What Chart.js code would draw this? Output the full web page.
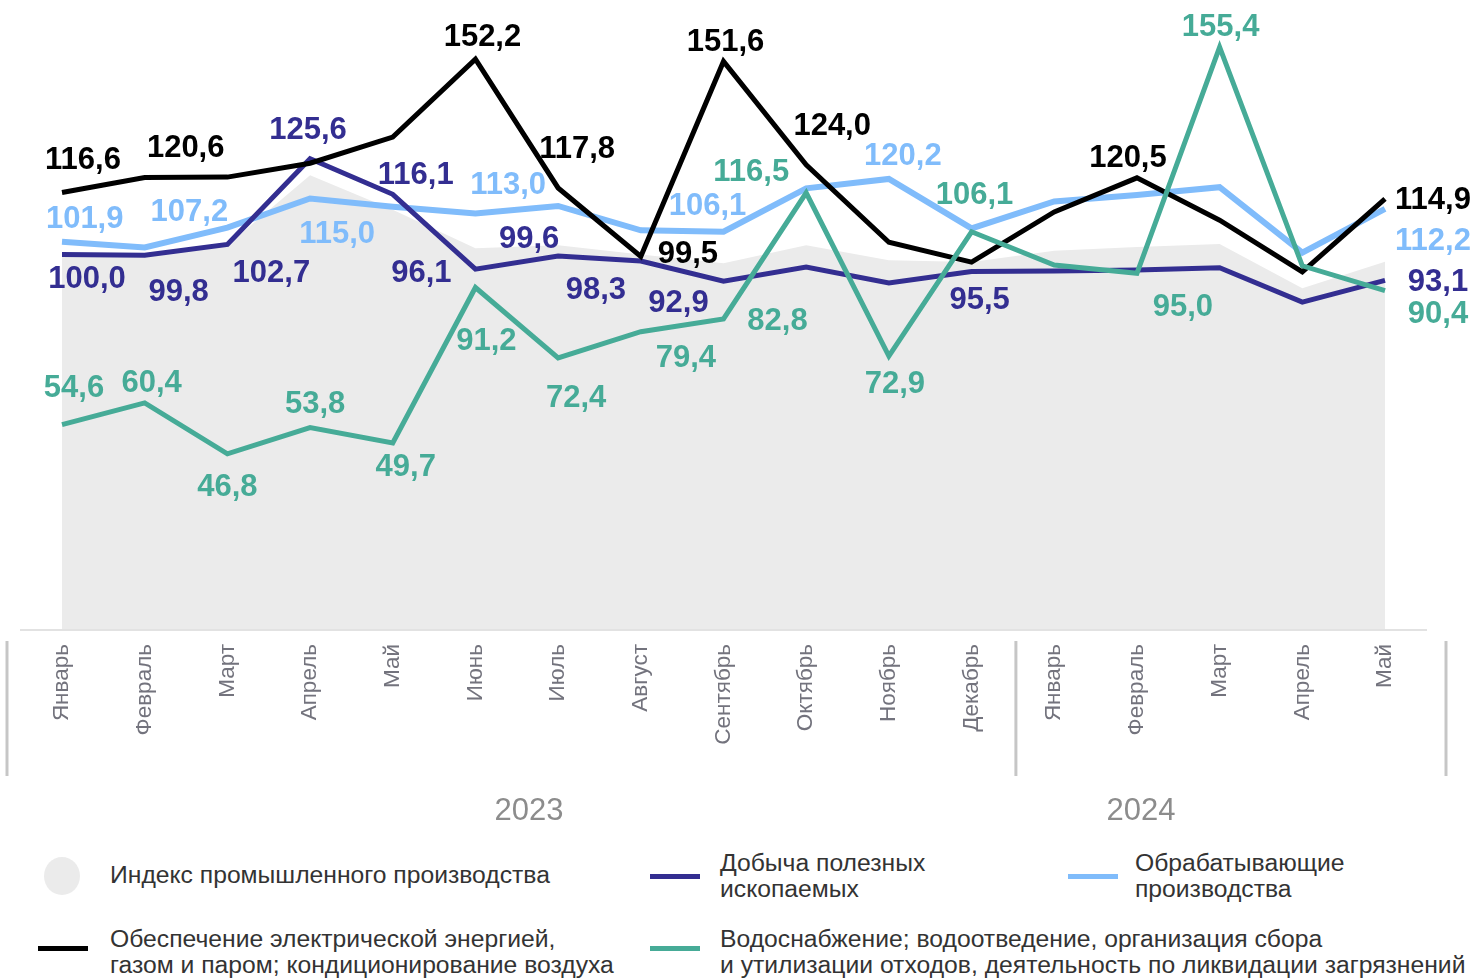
<!DOCTYPE html>
<html lang="ru">
<head>
<meta charset="utf-8">
<script src="https://cdn.jsdelivr.net/npm/chart.js@4.4.1/dist/chart.umd.min.js"></script>
<style>
    body { margin: 0; background: #fff; font-family: 'Liberation Sans', Arial, sans-serif; }
    #wrap { position: relative; width: 1478px; height: 978px; overflow: hidden; }
    #chart { position: absolute; left: 0; top: 0; }
    .year { position: absolute; top: 792px; width: 120px; margin-left: -60px; text-align: center; font-size: 31px; color: #8c8c8c; }
    .leg { position: absolute; font-size: 24.7px; line-height: 26px; color: #333; }
    .mark { position: absolute; height: 5px; width: 50px; }
    .dot { position: absolute; width: 36px; height: 38px; border-radius: 50%; background: #ebebeb; }
</style>
</head>
<body>
<div id="wrap">
    <canvas id="chart" width="1478" height="800"></canvas>

    <div class="year" style="left:529px">2023</div>
    <div class="year" style="left:1141px">2024</div>

    <div class="dot" style="left:44px; top:857px"></div>
    <div class="leg" style="left:110px; top:862px">Индекс промышленного производства</div>

    <div class="mark" style="left:650px; top:874px; background:#332e91"></div>
    <div class="leg" style="left:720px; top:850px">Добыча полезных<br>ископаемых</div>

    <div class="mark" style="left:1068px; top:874px; background:#80bcfb"></div>
    <div class="leg" style="left:1135px; top:850px">Обрабатывающие<br>производства</div>

    <div class="mark" style="left:38px; top:946px; background:#000"></div>
    <div class="leg" style="left:110px; top:926px">Обеспечение электрической энергией,<br>газом и паром; кондиционирование воздуха</div>

    <div class="mark" style="left:650px; top:946px; background:#46ab97"></div>
    <div class="leg" style="left:720px; top:926px">Водоснабжение; водоотведение, организация сбора<br>и утилизации отходов, деятельность по ликвидации загрязнений</div>
</div>

<script>
const months = ['Январь', 'Февраль', 'Март', 'Апрель', 'Май', 'Июнь', 'Июль', 'Август', 'Сентябрь',
    'Октябрь', 'Ноябрь', 'Декабрь', 'Январь', 'Февраль', 'Март', 'Апрель', 'Май'];

const industryIndex = [99.5, 99.5, 102.5, 121.2, 112.0, 101.7, 102.5, 100.0, 97.7, 102.5, 98.5, 98.0, 101.0, 102.0, 102.8, 91.0, 98.1];
const mining        = [100.0, 99.8, 102.7, 125.6, 116.1, 96.1, 99.6, 98.3, 92.9, 96.7, 92.4, 95.5, 95.6, 95.9, 96.5, 87.3, 93.1];
const manufacturing = [103.4, 101.9, 107.2, 115.0, 112.8, 111.0, 113.0, 106.5, 106.1, 117.7, 120.2, 107.0, 114.2, 115.9, 118.0, 100.5, 112.2];
const energy        = [116.6, 120.6, 120.7, 124.4, 131.4, 152.2, 117.8, 99.5, 151.6, 124.0, 103.3, 98.0, 111.4, 120.5, 109.2, 95.4, 114.9];
const water         = [54.6, 60.4, 46.8, 53.8, 49.7, 91.2, 72.4, 79.4, 82.8, 116.5, 72.9, 106.1, 97.2, 95.0, 155.4, 97.0, 90.4];

// which points carry a value label, and where the label sits relative to the point
const energyLabelPos = { 0: [21, -32], 1: [41, -29], 5: [7, -22], 6: [19, -38], 7: [47, -2], 8: [2, -19], 9: [26, -38], 13: [-9, -19], 16: [48, 2] };
const miningLabelPos = { 0: [25, 25], 1: [34, 37], 2: [44, 29], 3: [-2, -28], 4: [23, -19], 5: [-54, 4], 6: [-29, -17], 7: [-45, 29], 8: [-45, 22], 11: [8, 29], 16: [53, 2] };
const manufLabelPos = { 1: [-60, -28], 2: [-38, -15], 3: [27, 36], 6: [-50, -20], 8: [-16, -25], 10: [14, -23], 16: [48, 33] };
const waterLabelPos = { 0: [12, -36], 1: [7, -19], 2: [0, 34], 3: [5, -23], 4: [13, 25], 5: [11, 54], 6: [18, 41], 7: [45, 27], 8: [54, 2], 9: [-55, -20], 10: [6, 28], 11: [3, -36], 13: [46, 34], 14: [1, -20], 16: [53, 24] };

const fmt = v => v.toFixed(1).replace('.', ',');

const valueLabels = {
    id: 'valueLabels',
    afterDatasetsDraw(chart) {
        const ctx = chart.ctx;
        ctx.save();
        ctx.font = 'bold 31px "Liberation Sans", Arial, sans-serif';
        ctx.textAlign = 'center';
        ctx.textBaseline = 'middle';
        chart.data.datasets.forEach((ds, di) => {
            if (!ds.labelPos) return;
            const meta = chart.getDatasetMeta(di);
            ctx.fillStyle = ds.borderColor;
            Object.keys(ds.labelPos).forEach(k => {
                const pt = meta.data[k];
                const [dx, dy] = ds.labelPos[k];
                ctx.fillText(fmt(ds.data[k]), pt.x + dx, pt.y + dy);
            });
        });
        ctx.restore();
    },
    afterDraw(chart) {
        const ctx = chart.ctx;
        const x = chart.scales.x;
        const bottom = chart.chartArea.bottom;
        ctx.save();
        // baseline
        ctx.strokeStyle = '#e2e2e2';
        ctx.lineWidth = 2;
        ctx.beginPath();
        ctx.moveTo(20, bottom + 1);
        ctx.lineTo(1427, bottom + 1);
        ctx.stroke();
        // year separators
        ctx.strokeStyle = '#c6c6c6';
        ctx.lineWidth = 3;
        const seps = [x.getPixelForValue(0) - 55, (x.getPixelForValue(11) + x.getPixelForValue(12)) / 2 + 3, x.getPixelForValue(16) + 61];
        seps.forEach(sx => {
            ctx.beginPath();
            ctx.moveTo(sx, bottom + 12);
            ctx.lineTo(sx, bottom + 147);
            ctx.stroke();
        });
        ctx.restore();
    }
};

const line = (data, color, width, order, labelPos) => ({
    data, borderColor: color, borderWidth: width, pointRadius: 0,
    tension: 0, fill: false, order, labelPos
});

new Chart(document.getElementById('chart'), {
    type: 'line',
    data: {
        labels: months,
        datasets: [
            line(water, '#46ab97', 5, 1, waterLabelPos),
            line(energy, '#000000', 5, 2, energyLabelPos),
            line(mining, '#332e91', 5, 3, miningLabelPos),
            line(manufacturing, '#80bcfb', 6, 4, manufLabelPos),
            {
                data: industryIndex, borderWidth: 0, pointRadius: 0,
                backgroundColor: '#ebebeb', borderColor: '#ebebeb',
                fill: 'origin', tension: 0, order: 10
            }
        ]
    },
    options: {
        responsive: false,
        animation: false,
        devicePixelRatio: 1,
        layout: { padding: { left: 62, right: 93, top: 0, bottom: 0 } },
        plugins: { legend: { display: false }, tooltip: { enabled: false } },
        scales: {
            y: { display: false, min: 0, max: 168 },
            x: {
                offset: false,
                grid: { display: false, drawTicks: false },
                border: { display: false },
                afterFit: (scale) => { scale.height = 171; },
                ticks: {
                    minRotation: 90, maxRotation: 90, padding: 15,
                    color: '#73737d',
                    font: { family: 'Liberation Sans', size: 22.5 }
                }
            }
        }
    },
    plugins: [valueLabels]
});
</script>
</body>
</html>
